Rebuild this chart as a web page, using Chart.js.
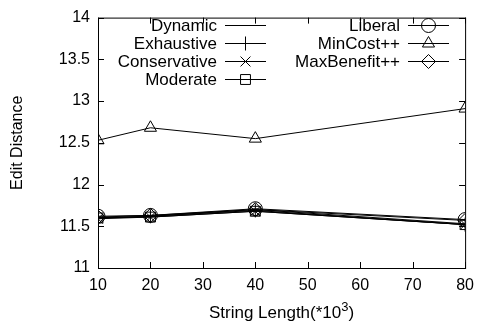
<!DOCTYPE html>
<html>
<head>
<meta charset="utf-8">
<script src="https://cdn.jsdelivr.net/npm/chart.js@4/dist/chart.umd.min.js"></script>
<style>
  html, body { margin: 0; padding: 0; background: #fff; }
  #wrap { width: 482px; height: 329px; }
</style>
</head>
<body>
<div id="wrap"><canvas id="editChart" width="482" height="329"></canvas></div>
<script>
// String lengths (x 10^3)
let lengths = [10, 20, 40, 80];

// Edit distance per strategy
let dynamicVals = [11.60, 11.62, 11.70, 11.53];
let exhaustiveVals = [11.60, 11.62, 11.69, 11.52];
let conservativeVals = [11.59, 11.61, 11.68, 11.52];
let moderateVals = [11.60, 11.61, 11.68, 11.52];
let liberalVals = [11.62, 11.63, 11.71, 11.58];
let minCostVals = [12.53, 12.68, 12.55, 12.91];
let maxBenefitVals = [11.61, 11.63, 11.70, 11.57];

let xTicks = [10, 20, 30, 40, 50, 60, 70, 80];
let yTicks = [11, 11.5, 12, 12.5, 13, 13.5, 14];

let FONT = "'Liberation Sans', Arial, sans-serif";
let FS = 16;   // tick labels
let FL = 17;   // legend and titles

function series(label, values, style) {
  return {
    label: label,
    data: lengths.map((x, i) => ({ x: x, y: values[i] })),
    borderColor: "#000",
    backgroundColor: "rgba(0,0,0,0)",
    borderWidth: 1,
    pointStyle: style,
    pointRadius: style ? 7 : 0,
    pointBorderWidth: 1,
    pointBorderColor: "#000",
    pointBackgroundColor: "rgba(0,0,0,0)",
    tension: 0,
  };
}

// legend layout: [column, row]
let legendSlots = [
  [0, 0], [0, 1], [0, 2], [0, 3],
  [1, 0], [1, 1], [1, 2],
];

// frame + inward ticks, legend and x title, gnuplot style
let framePlugin = {
  id: "frame",
  afterDraw(chart) {
    let ctx = chart.ctx;
    let a = chart.chartArea;
    let xs = chart.scales.x, ys = chart.scales.y;
    ctx.save();
    ctx.strokeStyle = "#000";
    ctx.lineWidth = 1;
    ctx.strokeRect(a.left + 0.5, a.top + 0.5, a.right - a.left, a.bottom - a.top);
    ctx.beginPath();
    xTicks.forEach(v => {
      let px = Math.round(xs.getPixelForValue(v)) + 0.5;
      ctx.moveTo(px, a.bottom); ctx.lineTo(px, a.bottom - 6);
      ctx.moveTo(px, a.top); ctx.lineTo(px, a.top + 6);
    });
    yTicks.forEach(v => {
      let py = Math.round(ys.getPixelForValue(v)) + 0.5;
      ctx.moveTo(a.left, py); ctx.lineTo(a.left + 6, py);
      ctx.moveTo(a.right, py); ctx.lineTo(a.right - 6, py);
    });
    ctx.stroke();

    // legend
    ctx.font = FL + "px " + FONT;
    ctx.textAlign = "right";
    ctx.textBaseline = "middle";
    let textRight = [217, 400];
    let lineStart = [225, 408];
    chart.data.datasets.forEach((ds, i) => {
      let col = legendSlots[i][0], row = legendSlots[i][1];
      let y = 25 + row * 18;
      ctx.fillStyle = "#000";
      ctx.fillText(ds.label, textRight[col], y + 1);
      ctx.beginPath();
      ctx.moveTo(lineStart[col], y + 0.5);
      ctx.lineTo(lineStart[col] + 41, y + 0.5);
      ctx.stroke();
      if (ds.pointStyle) {
        ctx.fillStyle = "rgba(0,0,0,0)";
        Chart.helpers.drawPoint(ctx, { pointStyle: ds.pointStyle, radius: 7, rotation: 0, borderWidth: 1 }, lineStart[col] + 20.5, y + 0.5);
      }
    });

    // x axis title with superscript exponent
    let main = "String Length(*10";
    let sup = "3";
    let tail = ")";
    ctx.fillStyle = "#000";
    ctx.textAlign = "left";
    ctx.textBaseline = "alphabetic";
    ctx.font = FL + "px " + FONT;
    let wMain = ctx.measureText(main).width;
    let wTail = ctx.measureText(tail).width;
    ctx.font = "13px " + FONT;
    let wSup = ctx.measureText(sup).width;
    let total = wMain + wSup + wTail;
    let x0 = (a.left + a.right) / 2 - total / 2;
    let base = 318;
    ctx.font = FL + "px " + FONT;
    ctx.fillText(main, x0, base);
    ctx.fillText(tail, x0 + wMain + wSup, base);
    ctx.font = "13px " + FONT;
    ctx.fillText(sup, x0 + wMain, base - 7);
    ctx.restore();
  },
};

let ctx = document.getElementById("editChart").getContext("2d");
let editChart = new Chart(ctx, {
  type: "line",
  data: {
    datasets: [
      series("Dynamic", dynamicVals, false),
      series("Exhaustive", exhaustiveVals, "cross"),
      series("Conservative", conservativeVals, "crossRot"),
      series("Moderate", moderateVals, "rect"),
      series("Liberal", liberalVals, "circle"),
      series("MinCost++", minCostVals, "triangle"),
      series("MaxBenefit++", maxBenefitVals, "rectRot"),
    ],
  },
  options: {
    responsive: false,
    animation: false,
    devicePixelRatio: 1,
    layout: { autoPadding: false, padding: { top: 13, right: 13, left: 0, bottom: 0 } },
    plugins: { legend: { display: false }, tooltip: { enabled: false } },
    scales: {
      x: {
        type: "linear",
        min: 10,
        max: 80,
        afterFit(scale) { scale.height = 61; },
        afterBuildTicks(scale) { scale.ticks = xTicks.map(v => ({ value: v })); },
        grid: { display: false, drawTicks: false },
        border: { display: false },
        ticks: { color: "#000", padding: 8, font: { family: FONT, size: FS } },
        title: { display: false },
      },
      y: {
        min: 11,
        max: 14,
        afterFit(scale) { scale.width = 98; },
        afterBuildTicks(scale) { scale.ticks = yTicks.map(v => ({ value: v })); },
        grid: { display: false, drawTicks: false },
        border: { display: false },
        ticks: {
          color: "#000",
          padding: 8,
          font: { family: FONT, size: FS },
          callback: v => String(v),
        },
        title: {
          display: true,
          text: "Edit Distance",
          color: "#000",
          font: { family: FONT, size: FS },
          padding: { top: 8, bottom: 0 },
        },
      },
    },
  },
  plugins: [framePlugin],
});
</script>
</body>
</html>
